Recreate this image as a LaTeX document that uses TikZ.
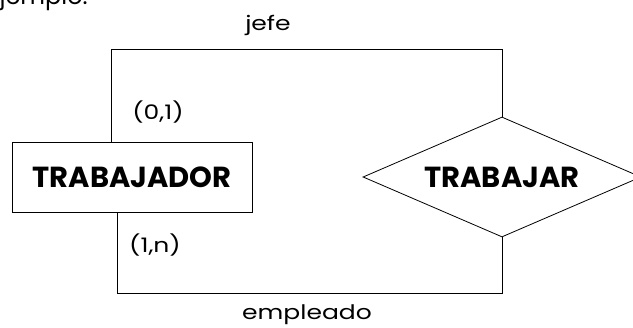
\documentclass[tikz,border=0pt]{standalone}
\usepackage{fontspec}
\setmainfont{Poppins}
\newfontfamily\etiquetafont[FakeStretch=1.25]{Poppins}
\usetikzlibrary{shapes.geometric,positioning}
\tikzstyle{entidad} = [rectangle, draw, line width=0.8pt, font=\bfseries\fontsize{29}{29}\selectfont,
    minimum width=240pt, minimum height=70pt, inner sep=0pt]
\tikzstyle{relacion} = [diamond, draw, line width=0.8pt, font=\bfseries\fontsize{29}{29}\selectfont,
    aspect=2.3, minimum width=278pt, minimum height=120pt, inner sep=0pt]
\tikzstyle{etiqueta} = [font=\etiquetafont\fontsize{20}{20}\selectfont, inner sep=0pt]
\tikzstyle{line} = [draw, line width=0.8pt]

\begin{document}
\begin{tikzpicture}[x=1pt, y=-1pt]
		\useasboundingbox (0,0) rectangle (633,328);
		\node [anchor=base east, font=\fontsize{24}{24}\selectfont, inner sep=0pt] (titulo) at (88,5) {Ejemplo:};
		
		\node [entidad] (trabajador) at (132,177) {TRABAJADOR};
		\node [relacion] (trabajar) at (502,177) {TRABAJAR};
		
		\coordinate (jefeesq) at (111,49);
		\coordinate (empesq) at (117,293);
		
		\path [line] (trabajador.north -| jefeesq) -- (jefeesq) -| (trabajar.north);
		\path [line] (trabajador.south -| empesq) -- (empesq) -| (trabajar.south);
		
		\node [etiqueta] (jefe) at (268,25) {jefe};
		\node [etiqueta] (empleado) at (307,315) {empleado};
		\node [etiqueta] (card01) at (158,112) {(0,1)};
		\node [etiqueta] (card1n) at (155,245) {(1,n)};
	\end{tikzpicture}
\end{document}
